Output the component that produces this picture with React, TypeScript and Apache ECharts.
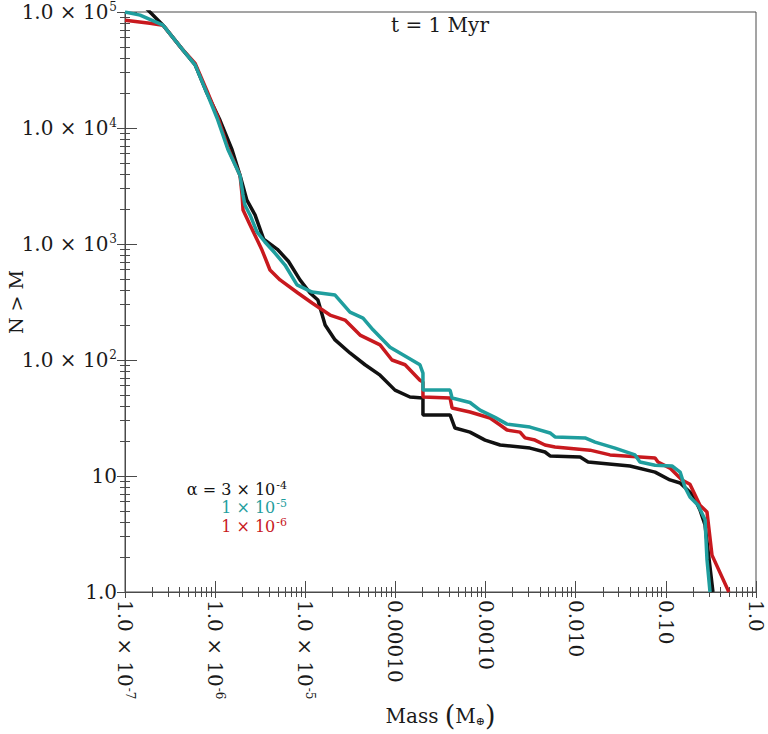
import { useEffect, useRef } from "react";
import * as echarts from "echarts";

// ---- axis ticks / labels ----
const xExponents = [-7, -6, -5, -4, -3, -2, -1, 0];
const xTickBase = ["1.0 × 10", "1.0 × 10", "1.0 × 10", "0.00010", "0.0010", "0.010", "0.10", "1.0"];
const xTickSup = ["-7", "-6", "-5", "", "", "", "", ""];
const yExponents = [0, 1, 2, 3, 4, 5];
const yTickBase = ["1.0", "10", "1.0 × 10", "1.0 × 10", "1.0 × 10", "1.0 × 10"];
const yTickSup = ["", "", "2", "3", "4", "5"];
const minorMultipliers = [2, 3, 4, 5, 6, 7, 8, 9];

const titleText = "t = 1 Myr";
const legendBase = ["α = 3 × 10", "1 × 10", "1 × 10"];
const legendSup = ["-4", "-5", "-6"];

// ---- series: [mass (M_earth), N > M] ----
const blackData: [number, number][] = [
  [1.47e-7, 1.22e5], [1.89e-7, 1.0e5], [2.64e-7, 7.7e4], [4.4e-7, 4.7e4], [6.0e-7, 3.5e4],
  [8.1e-7, 2.0e4], [1.13e-6, 1.17e4], [1.54e-6, 6.5e3], [1.89e-6, 3.9e3], [2.25e-6, 2.39e3],
  [2.77e-6, 1.78e3], [3.45e-6, 1.1e3], [4.9e-6, 900], [6.5e-6, 710], [8.73e-6, 490],
  [1.13e-5, 378], [1.38e-5, 329], [1.66e-5, 200], [2.14e-5, 149], [3.13e-5, 115],
  [4.6e-5, 91], [6.75e-5, 74], [9.89e-5, 55], [1.45e-4, 48], [2.02e-4, 47],
  [2.02e-4, 33.6], [4.04e-4, 33.6], [4.58e-4, 25.9], [6.71e-4, 23.9], [9.87e-4, 20.4],
  [1.45e-3, 18.5], [3.11e-3, 17.4], [4.56e-3, 16.1], [5.19e-3, 14.9], [1.12e-2, 14.6],
  [1.37e-2, 13.2], [4.0e-2, 12.2], [7.59e-2, 10.8], [0.111, 9.25], [0.144, 8.7],
  [0.2, 6.86], [0.239, 5.09], [0.272, 3.78], [0.333, 1.0],
];

const cyanData: [number, number][] = [
  [1.0e-7, 1.0e5], [1.47e-7, 9.4e4], [2.64e-7, 7.7e4], [4.4e-7, 4.7e4], [6.0e-7, 3.5e4],
  [8.1e-7, 2.0e4], [1.05e-6, 1.22e4], [1.39e-6, 6.5e3], [1.89e-6, 3.9e3], [2.04e-6, 2.64e3],
  [2.14e-6, 2.17e3], [2.44e-6, 1.78e3], [2.91e-6, 1.27e3], [3.57e-6, 1.04e3], [4.61e-6, 836],
  [5.96e-6, 659], [8.09e-6, 444], [1.19e-5, 385], [2.14e-5, 363], [3.13e-5, 259],
  [4.37e-5, 230], [5.64e-5, 182], [8.71e-5, 129], [1.12e-4, 115], [1.87e-4, 91],
  [2.02e-4, 77], [2.02e-4, 55], [4.04e-4, 55], [4.25e-4, 47], [6.71e-4, 43],
  [8.67e-4, 37], [1.27e-3, 32], [1.73e-3, 28], [3.11e-3, 26.4], [5.19e-3, 23.5],
  [5.89e-3, 21.7], [1.27e-2, 21.3], [1.64e-2, 19.6], [2.73e-2, 17.4], [4.55e-2, 15.2],
  [5.16e-2, 13.2], [7.59e-2, 12.4], [0.117, 12.2], [0.144, 10.8], [0.163, 8.0],
  [0.185, 6.6], [0.228, 5.6], [0.272, 4.2], [0.286, 1.9], [0.309, 1.0],
];

const redData: [number, number][] = [
  [1.0e-7, 8.5e4], [1.89e-7, 8.0e4], [2.64e-7, 7.7e4], [4.4e-7, 4.7e4], [6.0e-7, 3.6e4],
  [8.1e-7, 2.1e4], [1.08e-6, 1.22e4], [1.39e-6, 6.7e3], [1.89e-6, 3.9e3], [1.99e-6, 2.64e3],
  [2.04e-6, 1.96e3], [2.44e-6, 1.46e3], [3.31e-6, 887], [4.06e-6, 597], [5.25e-6, 490],
  [8.29e-6, 378], [1.19e-5, 310], [1.88e-5, 244], [2.76e-5, 221], [4.05e-5, 164],
  [6.75e-5, 135], [9.16e-5, 100], [1.28e-4, 91], [1.87e-4, 67], [2.02e-4, 64.6],
  [2.02e-4, 48], [4.04e-4, 47], [4.25e-4, 38.6], [6.71e-4, 35.6], [1.12e-3, 31.6],
  [1.45e-3, 27.5], [1.73e-3, 24.9], [2.41e-3, 23.9], [2.74e-3, 21.3], [3.53e-3, 20.4],
  [4.56e-3, 18.5], [5.89e-3, 17.8], [1.44e-2, 16.7], [2.4e-2, 15.2], [7.59e-2, 14.3],
  [8.18e-2, 13.2], [0.111, 11.7], [0.151, 9.25], [0.185, 8.5], [0.239, 5.6],
  [0.286, 4.9], [0.325, 2.08], [0.5, 1.0],
];

const FONT = "'DejaVu Serif', serif";
const AX = "#4a4a4a";
const TXT = "#1a1a1a";
const BLACK = "#111111";
const CYAN = "#1f9e9e";
const RED = "#c8191e";
const FS = 20;
const LW = 3.5;

function minorTicks(lo: number, hi: number): number[] {
  const out: number[] = [];
  for (let d = lo; d < hi; d++) for (const m of minorMultipliers) out.push(d + Math.log10(m));
  return out;
}

function richLabel(base: string, sup: string): string {
  return sup ? `{m|${base}}{s|${sup}}` : `{m|${base}}`;
}

const tickRich = {
  m: { fontFamily: FONT, fontSize: FS, color: TXT },
  s: { fontFamily: FONT, fontSize: 12, color: TXT, padding: [0, 0, 10, 1] },
};

function auxAxis(kind: "x" | "y", min: number, max: number, ticks: number[], inside: boolean, length: number, extra: any = {}) {
  return {
    type: "value",
    min,
    max,
    interval: 1,
    position: kind === "x" ? "bottom" : "left",
    axisLine: { show: false, onZero: false },
    splitLine: { show: false },
    axisLabel: { show: false },
    axisTick: { show: true, inside, length, customValues: ticks, lineStyle: { color: AX, width: 1 } },
    ...extra,
  };
}

export default function App() {
  const ref = useRef<HTMLDivElement>(null);

  useEffect(() => {
    if (!ref.current) return;
    const chart = echarts.init(ref.current, null, { renderer: "svg" });

    const xMin = xExponents[0];
    const xMax = xExponents[xExponents.length - 1];
    const yMin = yExponents[0];
    const yMax = yExponents[yExponents.length - 1];
    const xMinor = minorTicks(xMin, xMax);
    const yMinor = minorTicks(yMin, yMax);

    const legendColors = [BLACK, CYAN, RED];
    const legendY = [489, 507.5, 526];
    const legendItems = legendBase.map((b, i) => ({
      type: "text",
      x: 287,
      y: legendY[i],
      style: {
        text: `{b|${b}}{s|${legendSup[i]}}`,
        fontFamily: FONT,
        fontSize: 16,
        fill: legendColors[i],
        align: "right",
        verticalAlign: "middle",
        rich: {
          b: { fontFamily: FONT, fontSize: 16, fill: legendColors[i] },
          s: { fontFamily: FONT, fontSize: 11, fill: legendColors[i], padding: [0, 0, 8, 1] },
        },
      },
    }));

    const option: any = {
      animation: false,
      backgroundColor: "#ffffff",
      grid: {
        left: 125,
        right: 12,
        top: 12,
        bottom: 142,
        show: true,
        borderColor: AX,
        borderWidth: 1,
        outerBoundsMode: "none",
      },
      xAxis: [
        {
          type: "log",
          logBase: 10,
          min: Math.pow(10, xMin),
          max: Math.pow(10, xMax),
          position: "bottom",
          axisLine: { show: true, onZero: false, lineStyle: { color: AX, width: 1 } },
          axisTick: { show: false },
          axisLabel: { show: false },
          splitLine: { show: false },
          name: "{a|Mass }{p|(}{a|M}{s|⊕}{p|)}",
          nameLocation: "middle",
          nameGap: 110,
          nameTextStyle: {
            fontFamily: FONT,
            rich: {
              a: { fontFamily: FONT, fontSize: FS, color: TXT },
              p: { fontFamily: FONT, fontSize: 27, color: TXT },
              s: { fontFamily: FONT, fontSize: 11, color: TXT, padding: [12, 0, 0, 0] },
            },
          },
        },
        auxAxis("x", xMin, xMax, xExponents, false, 6, {
          axisLabel: {
            show: true,
            customValues: xExponents,
            rotate: -90,
            margin: 8,
            showMinLabel: true,
            showMaxLabel: true,
            hideOverlap: false,
            formatter: (v: number) => {
              const i = Math.round(v) - xMin;
              return richLabel(xTickBase[i] ?? "", xTickSup[i] ?? "");
            },
            rich: tickRich,
          },
        }),
        auxAxis("x", xMin, xMax, xExponents, true, 11),
        auxAxis("x", xMin, xMax, xMinor, false, 5),
        auxAxis("x", xMin, xMax, xMinor, true, 5),
      ],
      yAxis: [
        {
          type: "log",
          logBase: 10,
          min: Math.pow(10, yMin),
          max: Math.pow(10, yMax),
          position: "left",
          axisLine: { show: true, onZero: false, lineStyle: { color: AX, width: 1 } },
          axisTick: { show: false },
          axisLabel: { show: false },
          splitLine: { show: false },
          name: "N > M",
          nameLocation: "middle",
          nameGap: 100,
          nameRotate: 90,
          nameTextStyle: { fontFamily: FONT, fontSize: 19, color: TXT },
        },
        auxAxis("y", yMin, yMax, yExponents, false, 8, {
          axisLabel: {
            show: true,
            customValues: yExponents,
            margin: 8,
            showMinLabel: true,
            showMaxLabel: true,
            hideOverlap: false,
            formatter: (v: number) => {
              const i = Math.round(v) - yMin;
              return richLabel(yTickBase[i] ?? "", yTickSup[i] ?? "");
            },
            rich: tickRich,
          },
        }),
        auxAxis("y", yMin, yMax, yExponents, true, 12),
        auxAxis("y", yMin, yMax, yMinor, false, 5),
        auxAxis("y", yMin, yMax, yMinor, true, 5),
      ],
      series: [
        {
          name: legendBase[0] + legendSup[0],
          type: "line",
          data: blackData,
          symbol: "none",
          clip: true,
          lineStyle: { color: BLACK, width: LW },
          z: 3,
        },
        {
          name: legendBase[2] + legendSup[2],
          type: "line",
          data: redData,
          symbol: "none",
          clip: true,
          lineStyle: { color: RED, width: LW },
          z: 4,
        },
        {
          name: legendBase[1] + legendSup[1],
          type: "line",
          data: cyanData,
          symbol: "none",
          clip: true,
          lineStyle: { color: CYAN, width: LW },
          z: 5,
        },
      ],
      graphic: [
        {
          type: "text",
          x: 440,
          y: 25,
          style: { text: titleText, fontFamily: FONT, fontSize: FS, fill: TXT, align: "center", verticalAlign: "middle" },
        },
        ...legendItems,
      ],
    };

    chart.setOption(option);
    return () => chart.dispose();
  }, []);

  return (
    <div
      ref={ref}
      style={{ position: "absolute", left: 0, top: 0, width: 768, height: 734, background: "#fff" }}
    />
  );
}
